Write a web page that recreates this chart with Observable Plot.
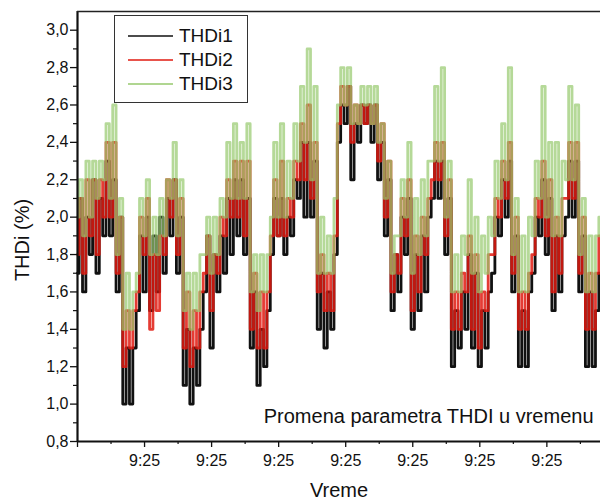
<!DOCTYPE html>
<html><head><meta charset="utf-8">
<script src="https://cdn.jsdelivr.net/npm/d3@7"></script>
<script src="https://cdn.jsdelivr.net/npm/@observablehq/plot@0.6"></script>
<style>
body{margin:0;background:#fff;font-family:"Liberation Sans",Arial,sans-serif;color:#111}
#wrap{position:relative;width:600px;height:502px;overflow:hidden;background:#fff}
#wrap > svg{position:absolute;left:0;top:0}
.ylab{position:absolute;left:22px;top:240px;transform:translate(-50%,-50%) rotate(-90deg);font-size:20px;white-space:nowrap}
.xlab{position:absolute;left:339px;top:479px;transform:translateX(-50%);font-size:20px;white-space:nowrap}
.legend{position:absolute;left:114px;top:15px;width:134px;height:88px;border:1.3px solid #333;background:#fff;box-sizing:border-box}
.legend .row{position:absolute;left:13px;height:22px;display:flex;align-items:center;font-size:19px;line-height:22px}
.legend .row svg{display:block;margin-right:6px}
</style></head><body><div id="wrap"></div>
<script>
// time axis (seconds), tick labels
const majorTicks = [0, 10, 20, 30, 40, 50, 60, 70];
const minorTicks = [5, 15, 25, 35, 45, 55, 65, 75];
const timeLabel = "9:25";
const yTicks = [0.8, 1.0, 1.2, 1.4, 1.6, 1.8, 2.0, 2.2, 2.4, 2.6, 2.8, 3.0];
const yMinor = [0.9, 1.1, 1.3, 1.5, 1.7, 1.9, 2.1, 2.3, 2.5, 2.7, 2.9];
const seriesNames = ["THDi1", "THDi2", "THDi3"];
const note = "Promena parametra THDI u vremenu";

// per-second low / high readings of each series (%)
const thdi1Lo = [1.7,1.6,1.8,1.7,1.9,1.9,1.6,1.0,1.0,1.5, 1.6,1.5,1.6,1.7,1.9,1.7,1.1,1.0,1.1,1.6,
 1.3,1.6,1.7,1.8,1.9,1.8,1.3,1.1,1.2,1.8, 1.9,1.8,1.9,2.1,2.0,2.0,1.4,1.3,1.4,2.4,
 2.5,2.2,2.4,2.5,2.4,2.2,1.9,1.5,1.6,1.8, 1.4,1.5,1.6,2.1,2.1,1.8,1.2,1.3,1.4,1.3,
 1.2,1.3,1.7,1.9,2.0,1.6,1.2,1.2,1.7,1.9, 1.8,1.5,1.6,2.0,2.0,1.6,1.2,1.2,1.7];
const thdi1Hi = [2.1,2.0,2.2,2.1,2.3,2.2,2.0,1.3,1.3,1.9, 2.0,1.9,2.0,2.1,2.2,2.0,1.4,1.3,1.4,1.9,
 1.8,1.9,2.1,2.2,2.2,2.1,1.6,1.4,1.5,2.1, 2.1,2.0,2.2,2.4,2.4,2.3,1.7,1.6,1.8,2.6,
 2.7,2.5,2.6,2.6,2.6,2.4,2.2,1.8,2.0,2.1, 1.8,1.9,2.0,2.3,2.3,2.1,1.5,1.6,1.8,1.7,
 1.5,1.6,2.0,2.2,2.3,1.9,1.5,1.6,2.0,2.2, 2.1,1.9,1.9,2.3,2.3,1.9,1.6,1.5,2.0];
const thdi2Lo = [1.8,1.7,1.9,1.8,2.0,2.0,1.7,1.2,1.3,1.6, 1.8,1.4,1.5,1.8,2.0,1.8,1.3,1.2,1.3,1.7,
 1.5,1.7,1.9,2.0,2.0,1.9,1.4,1.3,1.3,1.9, 1.9,1.9,2.0,2.2,2.2,2.1,1.6,1.5,1.5,2.5,
 2.6,2.4,2.5,2.5,2.5,2.3,2.0,1.6,1.7,1.9, 1.5,1.6,1.8,2.2,2.2,1.9,1.4,1.4,1.6,1.4,
 1.3,1.5,1.8,2.0,2.1,1.7,1.4,1.4,1.8,2.0, 1.9,1.6,1.7,2.1,2.1,1.7,1.4,1.4,1.9];
const thdi2Hi = [2.1,2.2,2.2,2.2,2.4,2.4,2.0,1.5,1.5,2.0, 2.1,1.8,1.9,2.2,2.2,2.1,1.6,1.5,1.6,1.9,
 1.8,2.0,2.2,2.3,2.3,2.3,1.7,1.6,1.6,2.2, 2.3,2.1,2.3,2.5,2.6,2.4,1.8,1.7,1.9,2.7,
 2.7,2.6,2.6,2.6,2.6,2.5,2.3,1.8,2.1,2.2, 1.9,2.0,2.1,2.4,2.4,2.2,1.6,1.7,1.9,1.8,
 1.6,1.8,2.1,2.3,2.4,2.0,1.6,1.7,2.1,2.3, 2.2,2.0,2.1,2.4,2.4,2.0,1.7,1.7,2.2];
const thdi3Lo = [2.0,1.9,2.0,2.1,2.2,2.1,1.8,1.4,1.4,1.7, 1.9,1.8,1.8,1.9,2.1,1.9,1.5,1.4,1.5,1.8,
 1.7,1.8,2.0,2.1,2.1,2.1,1.6,1.5,1.6,2.0, 2.0,2.0,2.1,2.3,2.4,2.2,1.7,1.7,1.7,2.6,
 2.6,2.5,2.5,2.6,2.5,2.4,2.1,1.7,1.9,2.0, 1.7,1.8,1.9,2.3,2.3,2.0,1.6,1.6,1.8,1.7,
 1.6,1.7,1.9,2.1,2.2,1.8,1.6,1.6,1.9,2.1, 2.0,1.9,1.9,2.2,2.2,1.8,1.6,1.6,2.0];
const thdi3Hi = [2.2,2.3,2.3,2.3,2.5,2.6,2.1,1.7,1.6,2.1, 2.2,2.0,2.1,2.2,2.4,2.2,1.7,1.7,1.8,2.0,
 2.0,2.1,2.4,2.5,2.4,2.5,1.8,1.8,1.8,2.4, 2.5,2.3,2.5,2.7,2.9,2.7,2.0,1.9,2.1,2.8,
 2.8,2.6,2.7,2.7,2.7,2.5,2.3,1.9,2.2,2.4, 2.1,2.2,2.3,2.7,2.8,2.3,1.8,1.9,2.2,2.0,
 1.9,2.0,2.3,2.5,2.8,2.1,1.9,2.0,2.3,2.7, 2.4,2.4,2.3,2.7,2.6,2.1,1.9,1.9,2.2];
const seriesColors = ["#111111", "#e01a10", "#96c96c"];

function trace(lo, hi) {
  const pts = [];
  lo.forEach((v, i) => { pts.push({t: i, v}); pts.push({t: i + 0.5, v: hi[i]}); });
  return pts;
}
const s1 = trace(thdi1Lo, thdi1Hi), s2 = trace(thdi2Lo, thdi2Hi), s3 = trace(thdi3Lo, thdi3Hi);
const comma = d => d.toFixed(1).replace(".", ",");

const chart = Plot.plot({
  width: 600, height: 502,
  marginLeft: 77, marginRight: 0, marginTop: 11, marginBottom: 61,
  x: {domain: [0, 78]},
  y: {domain: [0.8, 3.1]},
  style: {fontFamily: "Liberation Sans, Arial, sans-serif", fontSize: "16px", color: "#111", background: "transparent"},
  marks: [
    Plot.line(s1, {x: "t", y: "v", stroke: seriesColors[0], strokeWidth: 2.8, curve: "step"}),
    Plot.line(s2, {x: "t", y: "v", stroke: seriesColors[1], strokeWidth: 2.8, strokeOpacity: 0.85, curve: "step"}),
    Plot.line(s3, {x: "t", y: "v", stroke: seriesColors[2], strokeWidth: 2.8, strokeOpacity: 0.7, curve: "step"}),
    Plot.axisY({ticks: yTicks, tickSize: 7, tickPadding: 2, tickFormat: comma, fontSize: 16, label: null, strokeWidth: 1.3}),
    Plot.axisY({ticks: yMinor, tickSize: 4, tickFormat: () => "", label: null, strokeWidth: 1.2}),
    Plot.axisX({ticks: majorTicks, tickSize: 6, tickPadding: 7, tickFormat: d => d === 0 ? "" : timeLabel, fontSize: 16, label: null, strokeWidth: 1.3}),
    Plot.axisX({ticks: minorTicks, tickSize: 3, tickFormat: () => "", label: null, strokeWidth: 1.2}),
    Plot.ruleX([0], {strokeWidth: 2.2, stroke: "#111"}),
    Plot.ruleY([0.8], {strokeWidth: 2.2, stroke: "#111"}),
    Plot.ruleY([3.1], {strokeWidth: 1.6, stroke: "#222"}),
    Plot.text([note], {frameAnchor: "bottom-right", dx: -7, dy: -19, textAnchor: "end", lineAnchor: "bottom", fontSize: 20, fill: "#111"})
  ]
});

const wrap = document.getElementById("wrap");
wrap.appendChild(chart);

const ylab = document.createElement("div"); ylab.className = "ylab"; ylab.textContent = "THDi (%)"; wrap.appendChild(ylab);
const xlab = document.createElement("div"); xlab.className = "xlab"; xlab.textContent = "Vreme"; wrap.appendChild(xlab);

const legend = document.createElement("div"); legend.className = "legend";
seriesNames.forEach((name, i) => {
  const row = document.createElement("div"); row.className = "row";
  row.style.top = (9 + i * 24) + "px";
  row.innerHTML = `<svg width="45" height="4"><line x1="0" y1="2" x2="45" y2="2" stroke="${seriesColors[i]}" stroke-width="1.3"/></svg><span>${name}</span>`;
  legend.appendChild(row);
});
wrap.appendChild(legend);
</script></body></html>
